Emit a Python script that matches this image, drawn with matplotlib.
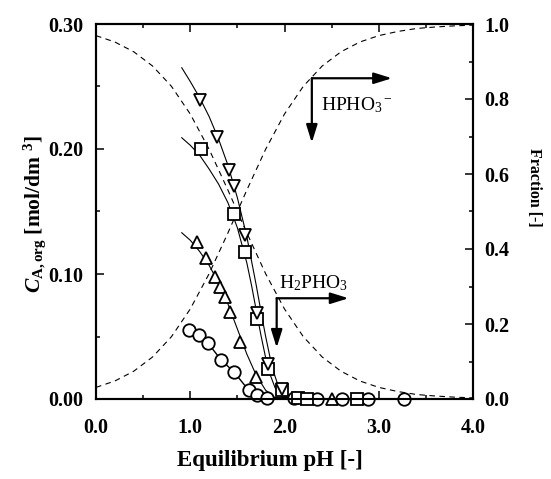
import matplotlib
matplotlib.use("Agg")
from matplotlib import pyplot as plt
from matplotlib.ticker import MultipleLocator

plt.rcParams["font.family"] = "Liberation Serif"
plt.rcParams["mathtext.fontset"] = "custom"
plt.rcParams["mathtext.rm"] = "Liberation Serif"
plt.rcParams["mathtext.bf"] = "Liberation Serif:bold"
plt.rcParams["mathtext.it"] = "Liberation Serif:italic:bold"

# measured points: equilibrium pH and C_A,org [mol/dm3]
ph_dn = [1.10, 1.28, 1.41, 1.46, 1.58, 1.71, 1.83, 1.97]
c_dn = [0.239, 0.210, 0.183, 0.170, 0.131, 0.069, 0.028, 0.008]

ph_sq = [1.11, 1.46, 1.58, 1.71, 1.83, 1.97, 2.14, 2.24, 2.77]
c_sq = [0.200, 0.148, 0.118, 0.064, 0.024, 0.007, 0.001, 0.000, 0.000]

ph_up = [1.07, 1.17, 1.26, 1.32, 1.37, 1.42, 1.53, 1.70, 2.50]
c_up = [0.126, 0.1125, 0.098, 0.090, 0.082, 0.070, 0.046, 0.018, 0.000]

ph_ci = [0.99, 1.09, 1.19, 1.33, 1.46, 1.62, 1.71, 1.81, 2.10, 2.34, 2.61, 2.89, 3.27]
c_ci = [0.055, 0.051, 0.0445, 0.031, 0.022, 0.007, 0.003, 0.001, 0.001, 0.0, 0.0, 0.0, 0.0]

# fitted curves (solid lines)
fit_dn_ph = [0.91, 1.0, 1.1, 1.2, 1.3, 1.4, 1.5, 1.6, 1.7, 1.76, 1.8, 1.85, 1.9, 1.95, 2.0, 2.1]
fit_dn_c = [0.265, 0.254, 0.241, 0.226, 0.208, 0.187, 0.161, 0.130, 0.091, 0.066, 0.050, 0.032,
            0.018, 0.007, 0.002, 0.0]
fit_sq_ph = [0.91, 1.0, 1.1, 1.2, 1.3, 1.4, 1.5, 1.6, 1.65, 1.7, 1.75, 1.8, 1.85, 1.9, 1.95, 2.0]
fit_sq_c = [0.209, 0.203, 0.195, 0.184, 0.172, 0.157, 0.137, 0.109, 0.091, 0.071, 0.051, 0.033,
            0.019, 0.009, 0.003, 0.001]
fit_up_ph = [0.91, 1.0, 1.1, 1.2, 1.3, 1.4, 1.5, 1.6, 1.7, 1.8, 1.9, 2.0]
fit_up_c = [0.133, 0.127, 0.118, 0.107, 0.093, 0.076, 0.056, 0.036, 0.019, 0.007, 0.001, 0.0]

# species fractions (dashed lines)
frac_ph = [0.0, 0.2, 0.4, 0.6, 0.8, 1.0, 1.2, 1.4, 1.6, 1.8, 2.0, 2.2, 2.4, 2.6, 2.8, 3.0,
           3.2, 3.4, 3.6, 3.8, 4.0]
frac_hpho3 = [0.031, 0.048, 0.074, 0.112, 0.166, 0.240, 0.334, 0.443, 0.557, 0.666, 0.760,
              0.834, 0.888, 0.926, 0.952, 0.969, 0.980, 0.988, 0.992, 0.995, 0.997]
frac_h2pho3 = [0.969, 0.952, 0.926, 0.888, 0.834, 0.760, 0.666, 0.557, 0.443, 0.334, 0.240,
               0.166, 0.112, 0.074, 0.048, 0.031, 0.020, 0.012, 0.008, 0.005, 0.003]

fig = plt.figure(figsize=(5.51, 4.79), dpi=100)
ax = fig.add_axes([96 / 551, 80 / 479, 377 / 551, 375 / 479])
ax2 = ax.twinx()
ax.set_zorder(2)
ax.patch.set_visible(False)

dash = dict(color="black", lw=0.8, dashes=(5, 4))
ax2.plot(frac_ph, frac_hpho3, **dash)
ax2.plot(frac_ph, frac_h2pho3, **dash)

for xs, ys in [(fit_dn_ph, fit_dn_c), (fit_sq_ph, fit_sq_c), (fit_up_ph, fit_up_c)]:
    ax.plot(xs, ys, color="black", lw=0.8)
ax.plot(ph_ci, c_ci, color="black", lw=1.0, clip_on=False)

mk = dict(ls="none", mfc="white", mec="black", mew=1.3, ms=9, clip_on=False)
ax.plot(ph_ci, c_ci, marker="o", **mk)
ax.plot(ph_up, c_up, marker="^", **mk)
ax.plot(ph_sq, c_sq, marker="s", **mk)
ax.plot(ph_dn, c_dn, marker="v", **mk)

arrow = dict(arrowstyle="-|>,head_length=0.9,head_width=0.28", color="black", lw=1.6,
             mutation_scale=12, shrinkA=0, shrinkB=0)
ax.annotate("", xy=(3.14, 0.2566), xytext=(2.29, 0.2566), arrowprops=arrow)
ax.annotate("", xy=(2.29, 0.205), xytext=(2.29, 0.2566), arrowprops=arrow)
ax.text(2.39, 0.235, r"HPHO$_3$$^-$", fontsize=14, va="center", ha="left")
ax.annotate("", xy=(2.68, 0.0806), xytext=(1.917, 0.0806), arrowprops=arrow)
ax.annotate("", xy=(1.917, 0.041), xytext=(1.917, 0.0806), arrowprops=arrow)
ax.text(1.94, 0.093, r"H$_2$PHO$_3$", fontsize=14, va="center", ha="left")

ax.set_xlim(0, 4)
ax.set_ylim(0, 0.3)
ax2.set_ylim(0, 1)
ax.set_xticks([0, 1, 2, 3, 4])
ax.set_xticklabels(["0.0", "1.0", "2.0", "3.0", "4.0"])
ax.set_yticks([0, 0.1, 0.2, 0.3])
ax.set_yticklabels(["0.00", "0.10", "0.20", "0.30"])
ax.xaxis.set_minor_locator(MultipleLocator(0.5))
ax.yaxis.set_minor_locator(MultipleLocator(0.05))
ax2.set_yticks([0, 0.2, 0.4, 0.6, 0.8, 1.0])
ax2.set_yticklabels(["0.0", "0.2", "0.4", "0.6", "0.8", "1.0"])
ax2.yaxis.set_minor_locator(MultipleLocator(0.1))

ax.tick_params(axis="x", which="both", direction="in", top=True, labelsize=14.5, pad=14)
ax.tick_params(axis="y", which="both", direction="in", right=False, labelsize=14.5, pad=9)
ax.tick_params(which="major", length=6, width=1.1)
ax.tick_params(which="minor", length=3, width=1.1)
ax2.tick_params(which="both", direction="in", labelsize=14.5, pad=8)
ax2.tick_params(which="major", length=6, width=1.1)
ax2.tick_params(which="minor", length=3, width=1.1)
for lab in ax.get_xticklabels() + ax.get_yticklabels() + ax2.get_yticklabels():
    lab.set_fontweight("bold")

for a in (ax, ax2):
    for sp in a.spines.values():
        sp.set_linewidth(1.5)

ax.set_xlabel("Equilibrium pH [-]", fontsize=16.5, fontweight="bold", va="center")
ax.xaxis.set_label_coords(0.462, -0.165)
ax.set_ylabel(r"$C_{\mathbf{A,org}}$ [mol/dm $^{\mathbf{3}}$]", fontsize=15.5,
              fontweight="bold", va="center")
ax.yaxis.set_label_coords(-0.162, 0.493)
ax2.set_ylabel("Fraction [-]", fontsize=11.5, fontweight="bold", rotation=270, va="center")
ax2.yaxis.set_label_coords(1.162, 0.563)

fig.savefig("out.png", dpi=100)
